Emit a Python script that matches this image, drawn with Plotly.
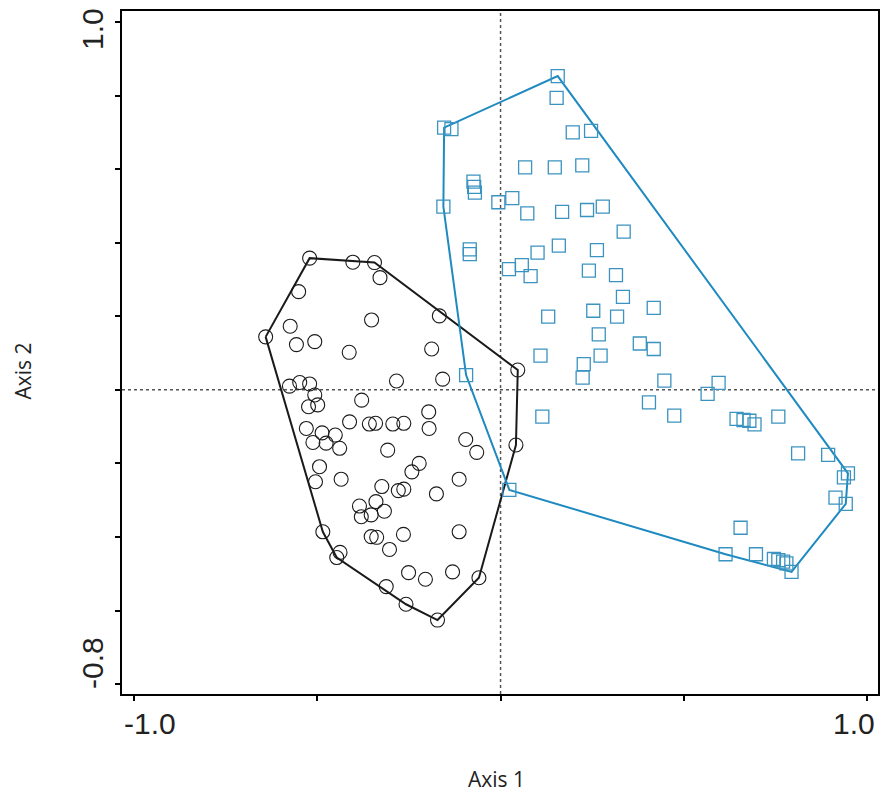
import plotly.graph_objects as go

# Group 1 (open circles, black hull)
grp1_x = [-0.521, -0.403, -0.344, -0.329, -0.551, -0.352, -0.167, -0.574, -0.641, -0.557,
          -0.507, -0.413, -0.188, 0.047, -0.284, -0.158, -0.576, -0.548, -0.521, -0.507,
          -0.524, -0.499, -0.379, -0.196, -0.412, -0.358, -0.341, -0.294, -0.264, -0.195,
          -0.530, -0.487, -0.451, -0.095, -0.512, -0.476, -0.439, -0.308, -0.065, -0.494,
          -0.505, -0.435, -0.222, -0.242, -0.324, -0.279, -0.264, -0.113, -0.175, -0.385,
          -0.340, -0.317, -0.380, -0.353, -0.353, -0.338, -0.265, -0.303, -0.113, -0.485,
          -0.438, -0.447, -0.251, -0.205, -0.131, -0.059, -0.312, -0.258, -0.172, 0.042]
grp1_y = [0.358, 0.347, 0.346, 0.305, 0.267, 0.190, 0.201, 0.173, 0.144, 0.123,
          0.131, 0.102, 0.111, 0.054, 0.024, 0.029, 0.010, 0.020, 0.016, -0.014,
          -0.046, -0.041, -0.028, -0.060, -0.087, -0.093, -0.091, -0.093, -0.091, -0.105,
          -0.105, -0.117, -0.123, -0.135, -0.143, -0.145, -0.159, -0.164, -0.170, -0.209,
          -0.250, -0.243, -0.200, -0.223, -0.263, -0.274, -0.270, -0.243, -0.283, -0.316,
          -0.304, -0.330, -0.345, -0.340, -0.399, -0.401, -0.393, -0.434, -0.386, -0.386,
          -0.442, -0.456, -0.497, -0.515, -0.495, -0.511, -0.535, -0.583, -0.626, -0.150]

# Group 2 (open squares, blue hull)
grp2_x = [0.156, 0.153, -0.154, -0.134, 0.197, 0.247, 0.067, 0.148, 0.223, -0.074,
          -0.072, -0.070, -0.156, -0.006, 0.032, 0.073, 0.168, 0.236, 0.279, -0.084,
          -0.084, 0.101, 0.159, 0.263, 0.336, 0.023, 0.058, 0.082, 0.241, 0.315,
          0.334, 0.130, 0.253, 0.318, 0.418, 0.268, 0.380, 0.418, 0.109, 0.273,
          0.227, 0.224, 0.447, 0.405, 0.474, 0.114, 0.595, 0.565, 0.644, 0.663,
          0.679, 0.693, 0.758, 0.812, 0.894, 0.948, 0.937, 0.914, 0.942, 0.655,
          0.614, 0.697, 0.746, 0.758, 0.771, 0.780, 0.794, -0.094, 0.024]
grp2_y = [0.853, 0.794, 0.713, 0.709, 0.700, 0.704, 0.605, 0.605, 0.610, 0.566,
          0.552, 0.536, 0.498, 0.510, 0.521, 0.480, 0.484, 0.489, 0.498, 0.382,
          0.369, 0.373, 0.392, 0.380, 0.430, 0.328, 0.339, 0.309, 0.324, 0.312,
          0.253, 0.199, 0.215, 0.199, 0.223, 0.151, 0.126, 0.111, 0.093, 0.093,
          0.070, 0.033, 0.025, -0.034, -0.070, -0.073, 0.019, -0.011, -0.079, -0.082,
          -0.084, -0.094, -0.073, -0.173, -0.177, -0.227, -0.238, -0.293, -0.310, -0.375,
          -0.447, -0.447, -0.460, -0.463, -0.467, -0.472, -0.495, 0.040, -0.272]

xtick_vals = [-1.0, -0.5, 0.0, 0.5, 1.0]
ytick_vals = [-0.8, -0.6, -0.4, -0.2, 0.0, 0.2, 0.4, 0.6, 0.8, 1.0]
x_end_labels = ["-1.0", "1.0"]
y_end_labels = ["-0.8", "1.0"]
x_title = "Axis 1"
y_title = "Axis 2"

BLACK = "#1a1a1a"
BLUE_LINE = "#1f8ac0"
BLUE_MARK = "#3a93c0"


def convex_hull(xs, ys):
    pts = sorted(set(zip(xs, ys)))

    def cross(o, a, b):
        return (a[0] - o[0]) * (b[1] - o[1]) - (a[1] - o[1]) * (b[0] - o[0])

    lower = []
    for p in pts:
        while len(lower) >= 2 and cross(lower[-2], lower[-1], p) <= 0:
            lower.pop()
        lower.append(p)
    upper = []
    for p in reversed(pts):
        while len(upper) >= 2 and cross(upper[-2], upper[-1], p) <= 0:
            upper.pop()
        upper.append(p)
    hull = lower[:-1] + upper[:-1]
    hull.append(hull[0])
    return [p[0] for p in hull], [p[1] for p in hull]


h1x, h1y = convex_hull(grp1_x, grp1_y)
h2x, h2y = convex_hull(grp2_x, grp2_y)

fig = go.Figure()
fig.add_trace(go.Scatter(x=h1x, y=h1y, mode="lines",
                         line=dict(color=BLACK, width=2), hoverinfo="skip"))
fig.add_trace(go.Scatter(x=h2x, y=h2y, mode="lines",
                         line=dict(color=BLUE_LINE, width=2), hoverinfo="skip"))
fig.add_trace(go.Scatter(x=grp1_x, y=grp1_y, mode="markers",
                         marker=dict(symbol="circle-open", size=14,
                                     line=dict(color=BLACK, width=1.1), color=BLACK)))
fig.add_trace(go.Scatter(x=grp2_x, y=grp2_y, mode="markers",
                         marker=dict(symbol="square-open", size=13,
                                     line=dict(color=BLUE_MARK, width=1.3), color=BLUE_MARK)))

fig.add_vline(x=0, line=dict(color="#555555", width=1.5, dash="3px,3px"), layer="below")
fig.add_hline(y=0, line=dict(color="#555555", width=1.5, dash="3px,3px"), layer="below")

axis_common = dict(showgrid=False, zeroline=False, showline=True, linewidth=2,
                   linecolor="black", mirror=True, ticks="outside", ticklen=5,
                   tickwidth=1.5, tickcolor="black", showticklabels=False)

fig.update_xaxes(range=[-1.033, 1.030], tickvals=xtick_vals, **axis_common)
fig.update_yaxes(range=[-0.827, 1.030], tickvals=ytick_vals, **axis_common)

tick_font = dict(family="Liberation Sans, Arial, sans-serif", size=30, color="#222222")
title_font = dict(family="Open Sans, sans-serif", size=21, color="#222222")

annotations = [
    dict(text=x_end_labels[0], xref="paper", yref="paper", x=0, y=0,
         xanchor="left", yanchor="top", yshift=-11, showarrow=False, font=tick_font),
    dict(text=x_end_labels[1], xref="paper", yref="paper", x=1, y=0,
         xanchor="right", yanchor="top", yshift=-11, xshift=-1, showarrow=False, font=tick_font),
    dict(text=y_end_labels[0], xref="paper", yref="paper", x=0, y=0,
         xanchor="center", yanchor="bottom", xshift=-30, yshift=3, textangle=-90,
         showarrow=False, font=tick_font),
    dict(text=y_end_labels[1], xref="paper", yref="paper", x=0, y=1,
         xanchor="center", yanchor="top", xshift=-30, yshift=5, textangle=-90,
         showarrow=False, font=tick_font),
    dict(text=x_title, xref="paper", yref="paper", x=0.5, y=0, xshift=-4, yshift=-85,
         xanchor="center", yanchor="middle", showarrow=False, font=title_font),
    dict(text=y_title, xref="paper", yref="paper", x=0, y=0.5, xshift=-100, yshift=-19,
         xanchor="center", yanchor="middle", textangle=-90, showarrow=False, font=title_font),
]

fig.update_layout(width=881, height=793, showlegend=False,
                  margin=dict(l=122, r=1, t=11, b=99),
                  paper_bgcolor="white", plot_bgcolor="white",
                  annotations=annotations)

# remove the browser's default 8px body margin so the figure fills the window exactly
fig.write_html("out.html", config={"displayModeBar": False},
               post_script="document.body.style.margin='0px';")
